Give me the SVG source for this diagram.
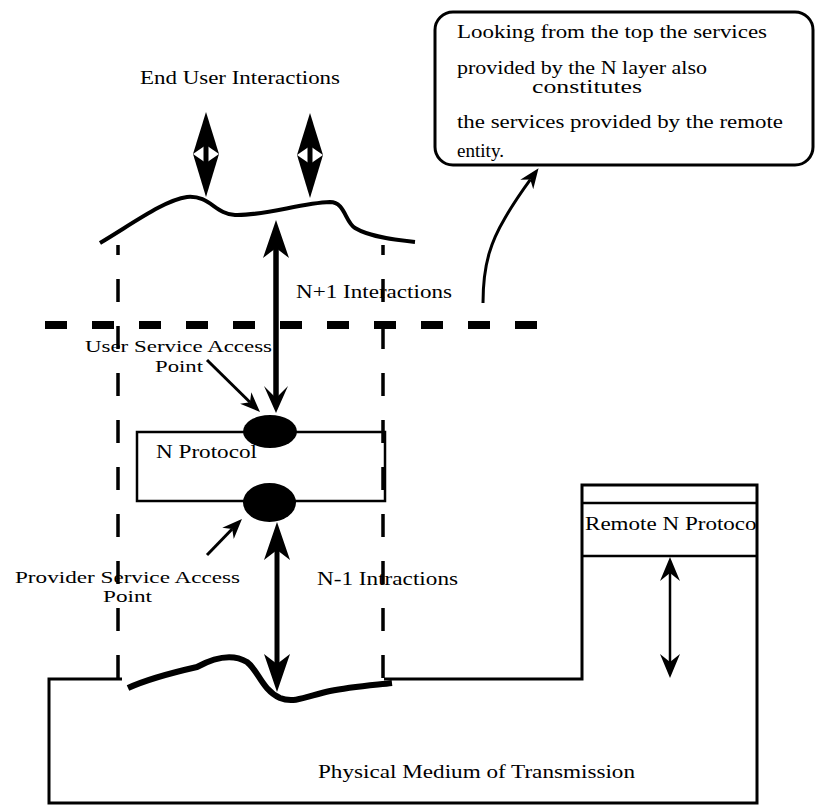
<svg xmlns="http://www.w3.org/2000/svg" width="816" height="805" viewBox="0 0 816 805">
<style>
text{font-family:"Liberation Serif","Times New Roman",serif;fill:#000;font-size:18px}
.big{font-size:19px}
.sap{font-size:17px}
.ln{fill:none;stroke:#000;stroke-linecap:butt}
.dash{fill:none;stroke:#000;stroke-width:3.5;stroke-dasharray:23 24}
</style>
<defs>
<marker id="hdBig" markerUnits="userSpaceOnUse" markerWidth="38" markerHeight="26" viewBox="0 0 38 26" refX="10" refY="13" orient="auto-start-reverse"><path d="M0,0 L38,13 L0,26 L10,13 z" fill="#000"/></marker>
<marker id="hdMid" markerUnits="userSpaceOnUse" markerWidth="27" markerHeight="24" viewBox="0 0 27 24" refX="12" refY="12" orient="auto-start-reverse"><path d="M0,0 L27,12 L0,24 L12,12 z" fill="#000"/></marker>
<marker id="hdSmall" markerUnits="userSpaceOnUse" markerWidth="24" markerHeight="20" viewBox="0 0 24 20" refX="8" refY="10" orient="auto-start-reverse"><path d="M0,0 L24,10 L0,20 L8,10 z" fill="#000"/></marker>
<marker id="hdThin" markerUnits="userSpaceOnUse" markerWidth="20" markerHeight="16" viewBox="0 0 20 16" refX="6" refY="8" orient="auto-start-reverse"><path d="M0,0 L20,8 L0,16 L6,8 z" fill="#000"/></marker>
<g id="dbl">
<path d="M0,-42 L13,0 L0,43 L-13,0 z" fill="#000"/>
<path d="M-13,0 L0,-9 L13,0 L0,9 z" fill="#fff"/>
<rect x="-2.5" y="-20" width="5" height="40" fill="#000"/>
</g>
<clipPath id="remClip"><rect x="582" y="503" width="175" height="53"/></clipPath>
</defs>

<g id="end-user">
<text class="big" x="140" y="84" textLength="200" lengthAdjust="spacingAndGlyphs">End User Interactions</text>
<use href="#dbl" x="206" y="154"/>
<use href="#dbl" x="310" y="155"/>
</g>

<g id="user-surface">
<path class="ln" stroke-width="4" stroke-linecap="round" d="M100,243 C135,222 165,200 187,197 C210,195 215,214 235,215 C265,216 300,203 330,202 C345,202 345,222 355,228 C370,237 395,240 415,242"/>
</g>

<g id="callout">
<rect x="435" y="12" width="378" height="153" rx="18" ry="18" fill="#fff" stroke="#000" stroke-width="3"/>
<text x="457" y="38" textLength="310" lengthAdjust="spacingAndGlyphs">Looking from the top the services</text>
<text x="457" y="74" textLength="250" lengthAdjust="spacingAndGlyphs">provided by the N layer also</text>
<text x="532" y="93" textLength="110" lengthAdjust="spacingAndGlyphs">constitutes</text>
<text x="457" y="128" textLength="326" lengthAdjust="spacingAndGlyphs">the services provided by the remote</text>
<text x="457" y="157" textLength="47" lengthAdjust="spacingAndGlyphs">entity.</text>
</g>

<g id="boundary">
<line class="ln" x1="45" y1="325" x2="540" y2="325" stroke-width="8" stroke-dasharray="22 25"/>
</g>

<g id="n-protocol">
<rect x="137" y="432" width="248" height="69" fill="none" stroke="#000" stroke-width="2.5"/>
<text x="156" y="458" textLength="101" lengthAdjust="spacingAndGlyphs">N Protocol</text>
</g>

<g id="user-sap">
<ellipse cx="270" cy="431.5" rx="27" ry="16.5" fill="#000"/>
<text class="sap" x="85" y="352" textLength="187" lengthAdjust="spacingAndGlyphs">User Service Access</text>
<text class="sap" x="155" y="372" textLength="48" lengthAdjust="spacingAndGlyphs">Point</text>
</g>

<g id="provider-sap">
<ellipse cx="269.5" cy="502.5" rx="26.5" ry="19.5" fill="#000"/>
<text class="sap" x="15" y="583" textLength="225" lengthAdjust="spacingAndGlyphs">Provider Service Access</text>
<text class="sap" x="103" y="602" textLength="49" lengthAdjust="spacingAndGlyphs">Point</text>
</g>

<g id="remote-n-protocol">
<line class="ln" x1="582" y1="503" x2="757" y2="503" stroke-width="2.5"/>
<line class="ln" x1="582" y1="556" x2="757" y2="556" stroke-width="2.5"/>
<text class="big" x="585" y="530" textLength="178" lengthAdjust="spacingAndGlyphs" clip-path="url(#remClip)">Remote N Protocol</text>
</g>

<g id="physical-medium">
<path class="ln" stroke-width="3" d="M122,679 L49,679 L49,803 L757,803 L757,485 L582,485 L582,679 L384,679"/>
<path class="ln" stroke-width="6" stroke-linecap="round" d="M128,688 C150,678 175,672 197,667 C210,660 230,652 247,662 C258,670 262,690 280,698 C295,704 310,695 330,691 C350,687 375,685 392,683"/>
<text class="big" x="318" y="778" textLength="317" lengthAdjust="spacingAndGlyphs">Physical Medium of Transmission</text>
</g>

<g id="connectors">
<line class="dash" x1="118" y1="245" x2="118" y2="679" stroke-dashoffset="13"/>
<line class="dash" x1="383" y1="245" x2="383" y2="679" stroke-dashoffset="13"/>
<line class="ln" x1="276" y1="248" x2="276" y2="398" stroke-width="5.5" marker-start="url(#hdBig)" marker-end="url(#hdMid)"/>
<text x="296" y="298" textLength="156" lengthAdjust="spacingAndGlyphs">N+1 Interactions</text>
<line class="ln" x1="277" y1="550" x2="277" y2="664" stroke-width="5" marker-start="url(#hdBig)" marker-end="url(#hdBig)"/>
<text x="317" y="585" textLength="141" lengthAdjust="spacingAndGlyphs">N-1 Intractions</text>
<line class="ln" x1="670" y1="573" x2="670" y2="662" stroke-width="2.5" marker-start="url(#hdSmall)" marker-end="url(#hdSmall)"/>
<line class="ln" x1="207" y1="360" x2="250" y2="402.2" stroke-width="3" marker-end="url(#hdThin)"/>
<line class="ln" x1="207" y1="555" x2="232.2" y2="529" stroke-width="3" marker-end="url(#hdThin)"/>
<path class="ln" stroke-width="3" d="M483,303 C483,262 492,240 505,218 C513,204 522,191 530.3,179.6" marker-end="url(#hdThin)"/>
</g>
</svg>
